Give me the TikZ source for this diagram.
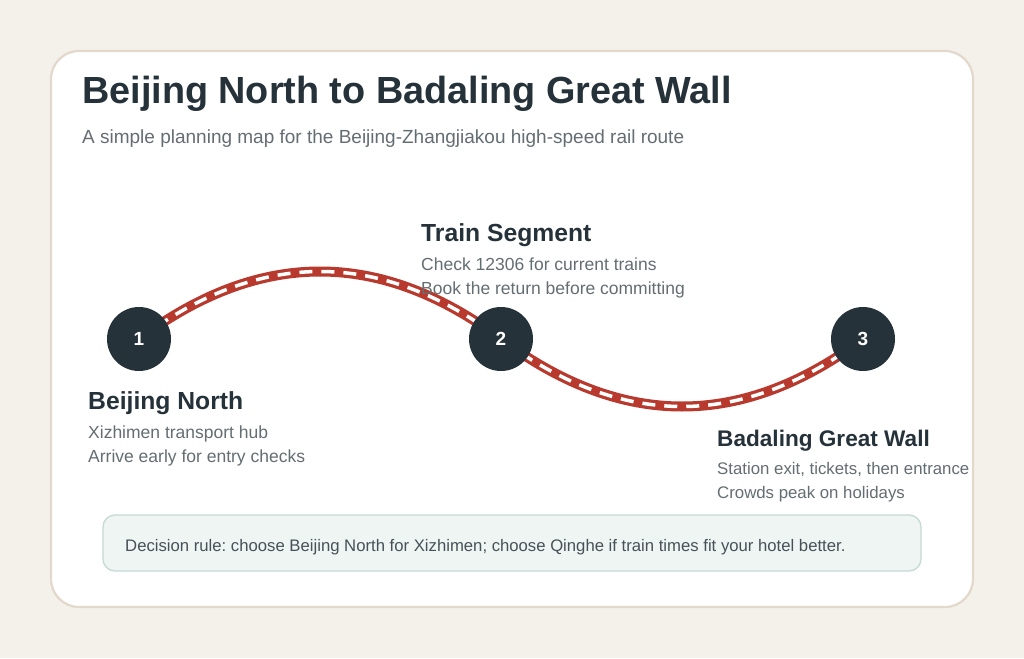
\documentclass[tikz,border=0pt]{standalone}
\usepackage{fontspec}
\setmainfont{Liberation Sans}
\frenchspacing
\definecolor{bgc}{HTML}{F4F1EB}
\definecolor{cardedge}{HTML}{E2D8CC}
\definecolor{ink}{HTML}{26323A}
\definecolor{subink}{HTML}{646E72}
\definecolor{rail}{HTML}{B83A2E}
\definecolor{notefill}{HTML}{EEF5F3}
\definecolor{noteedge}{HTML}{C6D9D4}
\tikzset{
  stopdot/.style={circle,fill=ink,minimum size=64pt,inner sep=0pt,text=white,font=\fontsize{19}{21}\selectfont\bfseries},
  headtxt/.style={anchor=base west,inner sep=0pt,text=ink,font=\fontsize{24.7}{28}\selectfont\bfseries},
  bodytxt/.style={anchor=base west,inner sep=0pt,text=subink,font=\fontsize{17.5}{20}\selectfont},
  headtxtb/.style={headtxt,font=\fontsize{22.6}{26}\selectfont\bfseries},
  bodytxtb/.style={bodytxt,font=\fontsize{16.8}{20}\selectfont},
}
\begin{document}
\begin{tikzpicture}[x=1pt,y=-1pt]
\useasboundingbox (0,0) rectangle (1024,658);
\fill[bgc] (0,0) rectangle (1024,658);
\draw[cardedge,line width=2.2pt,fill=white,rounded corners=28pt] (51,51) rectangle (973,607);
\node[anchor=base west,inner sep=0pt,text=ink,font=\fontsize{37.8}{42}\selectfont\bfseries] (title) at (82,104) {Beijing North to Badaling Great Wall};
\node[anchor=base west,inner sep=0pt,text=subink,font=\fontsize{19}{22}\selectfont] (subtitle) at (82,143) {A simple planning map for the Beijing-Zhangjiakou high-speed rail route};
% stops (coordinates first for route)
\coordinate (p1) at (139,339);
\coordinate (p2) at (501,339);
\coordinate (p3) at (863,339);
\draw[rail,line width=10pt] (p1) .. controls (260,249) and (380,249) .. (p2) .. controls (622,429) and (742,429) .. (p3);
\draw[white,line width=3.5pt,dash pattern=on 13pt off 9pt] (p1) .. controls (260,249) and (380,249) .. (p2) .. controls (622,429) and (742,429) .. (p3);
\node[stopdot] (s1) at (p1) {1};
\node[stopdot] (s2) at (p2) {2};
\node[stopdot] (s3) at (p3) {3};
% labels
\node[headtxt] (h1) at (88,409) {Beijing North};
\node[bodytxt] (b1a) at (88,438) {Xizhimen transport hub};
\node[bodytxt] (b1b) at (88,462) {Arrive early for entry checks};
\node[headtxt] (h2) at (421,241) {Train Segment};
\node[bodytxt] (b2a) at (421,270) {Check 12306 for current trains};
\node[bodytxt] (b2b) at (421,294) {Book the return before committing};
\node[headtxtb] (h3) at (717,446) {Badaling Great Wall};
\node[bodytxtb] (b3a) at (717,474) {Station exit, tickets, then entrance};
\node[bodytxtb] (b3b) at (717,498) {Crowds peak on holidays};
% decision note
\draw[noteedge,fill=notefill,line width=1.3pt,rounded corners=12pt] (103,515) rectangle (921,571);
\node[anchor=base west,inner sep=0pt,text=ink!85!white,font=\fontsize{16.7}{20}\selectfont] (note) at (125,551) {Decision rule: choose Beijing North for Xizhimen; choose Qinghe if train times fit your hotel better.};
\end{tikzpicture}
\end{document}
